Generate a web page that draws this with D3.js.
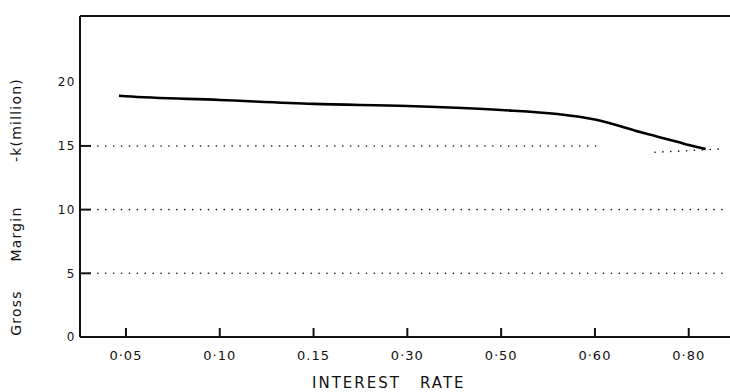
<!DOCTYPE html>
<html lang="en">
<head>
  <meta charset="UTF-8" />
  <title>Gross Margin vs Interest Rate</title>
  <style>
    * { margin:0; padding:0; box-sizing:border-box }
    body { background:#fff; font-family:'DejaVu Sans',sans-serif; }
    svg { display:block; }
  </style>
</head>
<body>
  <div id="chart"></div>

  <script src="https://d3js.org/d3.v7.min.js"></script>
  <script>
    // Interest rate categories (evenly spaced on the axis)
    const rateLabels = ["0\u00b705","0\u00b710","0.15","0\u00b730","0\u00b750","0\u00b760","0\u00b780"];

    // Gross margin curve, position given in category-index units
    const curvePos = [-0.075, 0, 1, 2, 3, 4, 4.6, 5, 5.5, 5.9, 6, 6.18];
    const curveVal = [18.94, 18.9, 18.61, 18.3, 18.13, 17.82, 17.5, 17.07, 16.05, 15.28, 15.07, 14.76];

    // dotted reference lines: level, start index, end index, end level
    const refLevel = [5, 10, 15, 14.5];
    const refFrom  = [-0.3, -0.3, -0.3, 5.64];
    const refTo    = [6.38, 6.38, 5.04, 6.36];
    const refLevelEnd = [5, 10, 15, 14.77];

    const yTickVals = [0, 5, 10, 15, 20];
    const yTickMarks = [5, 10, 15];

    const W = 730, H = 392;
    const mLeft = 80, mRight = 730, mTop = 16, mBottom = 337;

    const x = d3.scaleLinear().domain([-0.49, 6.44]).range([mLeft, mRight]);
    const y = d3.scaleLinear().domain([0, 25.2]).range([mBottom, mTop]);

    const svg = d3.select("#chart").append("svg")
      .attr("width", W).attr("height", H);

    // dotted lines
    svg.append("g").selectAll("line")
      .data(refLevel.map((v,i)=>({v, f:refFrom[i], t:refTo[i], ve:refLevelEnd[i]})))
      .join("line")
      .attr("x1", d=>x(d.f)).attr("x2", d=>x(d.t))
      .attr("y1", d=>y(d.v)).attr("y2", d=>y(d.ve))
      .attr("stroke", "#111")
      .attr("stroke-width", 1.6)
      .attr("stroke-linecap", "round")
      .attr("stroke-dasharray", "0.1,7.8");

    // frame: left axis, bottom axis, top border
    const frame = svg.append("g").attr("stroke", "#111").attr("fill", "none");
    frame.append("line").attr("x1", mLeft).attr("x2", mLeft).attr("y1", mTop).attr("y2", mBottom).attr("stroke-width", 2);
    frame.append("line").attr("x1", mLeft).attr("x2", mRight).attr("y1", mBottom).attr("y2", mBottom).attr("stroke-width", 2);
    frame.append("line").attr("x1", mLeft).attr("x2", mRight).attr("y1", mTop).attr("y2", mTop).attr("stroke-width", 1.8);

    // y tick marks (inward)
    svg.append("g").selectAll("line")
      .data(yTickMarks).join("line")
      .attr("x1", mLeft).attr("x2", mLeft + 11)
      .attr("y1", d=>y(d)).attr("y2", d=>y(d))
      .attr("stroke", "#111").attr("stroke-width", 2);

    // y tick labels
    svg.append("g").selectAll("text")
      .data(yTickVals).join("text")
      .attr("x", mLeft - 4)
      .attr("y", d=>y(d))
      .attr("dy", "0.35em")
      .attr("text-anchor", "end")
      .attr("font-size", 12)
      .attr("letter-spacing", 1.5)
      .attr("fill", "#111")
      .text(d=>d);

    // x ticks (inward)
    svg.append("g").selectAll("line")
      .data(rateLabels).join("line")
      .attr("x1", (d,i)=>x(i)).attr("x2", (d,i)=>x(i))
      .attr("y1", mBottom).attr("y2", mBottom - 9)
      .attr("stroke", "#111").attr("stroke-width", 2);

    svg.append("g").selectAll("text")
      .data(rateLabels).join("text")
      .attr("x", (d,i)=>x(i))
      .attr("y", 360)
      .attr("text-anchor", "middle")
      .attr("font-size", 13)
      .attr("letter-spacing", 1)
      .attr("fill", "#111")
      .text(d=>d);

    // curve
    const line = d3.line()
      .x(d=>x(d[0])).y(d=>y(d[1]))
      .curve(d3.curveMonotoneX);
    svg.append("path")
      .datum(curvePos.map((p,i)=>[p, curveVal[i]]))
      .attr("d", line)
      .attr("fill", "none")
      .attr("stroke", "#000")
      .attr("stroke-width", 2.6);

    // axis titles
    svg.append("text")
      .attr("x", 312).attr("y", 388)
      .attr("font-size", 15)
      .attr("letter-spacing", 2)
      .attr("fill", "#111")
      .text("INTEREST");
    svg.append("text")
      .attr("x", 420).attr("y", 388)
      .attr("font-size", 15)
      .attr("letter-spacing", 2)
      .attr("fill", "#111")
      .text("RATE");

    const yTitles = [["Gross", 313], ["Margin", 234], ["-k(million)", 120]];
    svg.append("g").selectAll("text")
      .data(yTitles).join("text")
      .attr("transform", d=>`translate(21,${d[1]}) rotate(-90)`)
      .attr("text-anchor", "middle")
      .attr("font-size", 14)
      .attr("letter-spacing", 1.2)
      .attr("fill", "#111")
      .text(d=>d[0]);
  </script>
</body>
</html>
